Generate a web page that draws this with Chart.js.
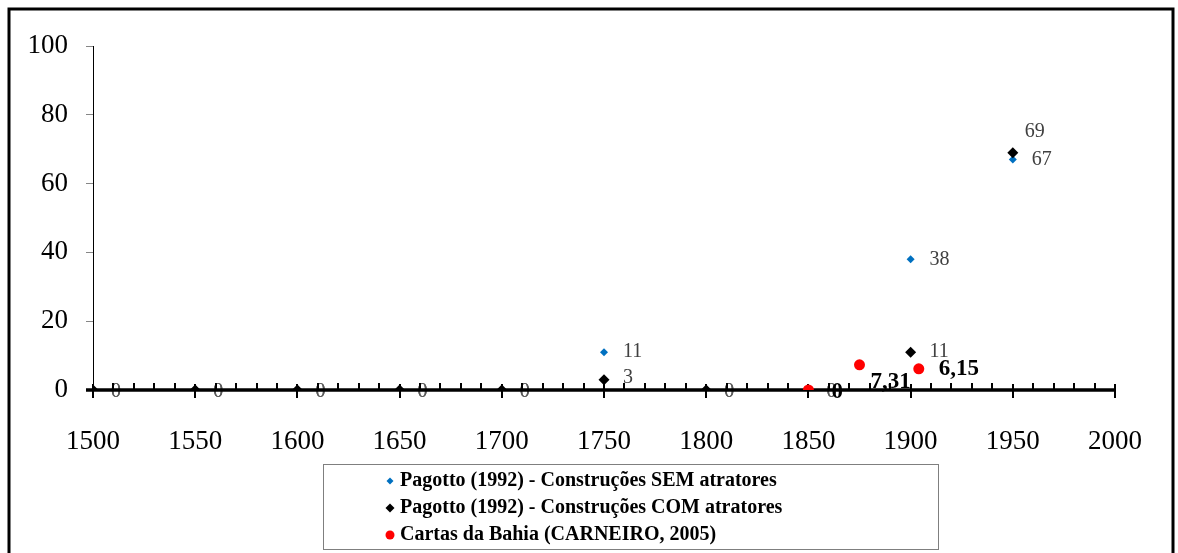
<!DOCTYPE html>
<html><head><meta charset="utf-8">
<script src="https://cdn.jsdelivr.net/npm/chart.js@4.4.0/dist/chart.umd.min.js"></script>
<style>html,body{margin:0;padding:0;background:#fff;overflow:hidden}</style>
</head><body>
<canvas id="c" width="1178" height="553"></canvas>
<script>
// ---- data ----
const years = [1500, 1550, 1600, 1650, 1700, 1750, 1800, 1850, 1900, 1950];
const semAtratores = [0, 0, 0, 0, 0, 11, 0, 0, 38, 67];
const comAtratores = [0, 0, 0, 0, 0, 3, 0, 0, 11, 69];
const cartasYears = [1850, 1875, 1904];
const cartasValues = [0, 7.31, 6.15];
const cartasLabels = ['0', '7,31', '6,15'];
const seriesNames = [
  'Pagotto (1992) - Construções SEM atratores',
  'Pagotto (1992) - Construções COM atratores',
  'Cartas da Bahia (CARNEIRO, 2005)'
];
const xTicks = [1500, 1550, 1600, 1650, 1700, 1750, 1800, 1850, 1900, 1950, 2000];
const yTicks = [0, 20, 40, 60, 80, 100];

// ---- styles ----
const serif = "'Liberation Serif','Times New Roman',serif";
const colors = ['#0070C0', '#000000', '#FF0000'];
// label offsets (px) per dataset/point
const semOffsets = { default: [19, 0], zero: [18, 2] };
const comOffsets = { default: [19, 0], zero: [18, 2], 5: [19, -2], 9: [12, -21] };
const cartasOffsets = [[23, 2], [11, 17], [20, 0]];

const toPts = (xs, ys) => xs.map((x, i) => ({ x: x, y: ys[i] }));

const customPlugin = {
  id: 'custom',
  beforeDraw(chart) {
    const ctx = chart.ctx;
    ctx.save();
    ctx.fillStyle = '#fff';
    ctx.fillRect(0, 0, chart.width, chart.height);
    ctx.restore();
  },
  beforeDatasetsDraw(chart) {
    const ctx = chart.ctx, xs = chart.scales.x, ys = chart.scales.y;
    const y0 = ys.getPixelForValue(0);
    ctx.save();
    // zero labels of Pagotto series (under axis line)
    ctx.font = '20px ' + serif;
    ctx.fillStyle = '#5a5a5a';
    ctx.textBaseline = 'middle';
    ctx.textAlign = 'left';
    [[0, semOffsets], [1, comOffsets]].forEach(([di, off]) => {
      const meta = chart.getDatasetMeta(di);
      chart.data.datasets[di].data.forEach((d, i) => {
        if (d.y === 0) {
          const p = meta.data[i];
          ctx.fillText('0', p.x + off.zero[0], p.y + off.zero[1]);
        }
      });
    });
    // x axis line
    ctx.strokeStyle = '#000';
    ctx.lineWidth = 3.5;
    ctx.beginPath();
    ctx.moveTo(xs.left - 7, y0);
    ctx.lineTo(xs.right, y0);
    ctx.stroke();
    ctx.lineWidth = 2;
    for (let v = xs.min; v <= xs.max; v += 10) {
      const x = Math.round(xs.getPixelForValue(v));
      ctx.beginPath();
      if (v % 50 === 0) { ctx.moveTo(x, y0 - 6); ctx.lineTo(x, y0 + 8); }
      else { ctx.moveTo(x, y0 - 7); ctx.lineTo(x, y0); }
      ctx.stroke();
    }
    ctx.restore();
  },
  afterDatasetsDraw(chart) {
    const ctx = chart.ctx;
    ctx.save();
    ctx.textBaseline = 'middle';
    ctx.textAlign = 'left';
    ctx.font = '20px ' + serif;
    ctx.fillStyle = '#404040';
    [[0, semOffsets], [1, comOffsets]].forEach(([di, off]) => {
      const meta = chart.getDatasetMeta(di);
      chart.data.datasets[di].data.forEach((d, i) => {
        if (d.y !== 0) {
          const p = meta.data[i];
          const o = off[i] || off.default;
          ctx.fillText(String(d.y), p.x + o[0], p.y + o[1]);
        }
      });
    });
    ctx.font = 'bold 23px ' + serif;
    ctx.fillStyle = '#000';
    const meta = chart.getDatasetMeta(2);
    cartasLabels.forEach((t, i) => {
      const p = meta.data[i];
      ctx.fillText(t, p.x + cartasOffsets[i][0], p.y + cartasOffsets[i][1]);
    });
    ctx.restore();
  },
  afterDraw(chart) {
    const ctx = chart.ctx;
    ctx.save();
    // outer frame
    ctx.strokeStyle = '#000';
    ctx.lineWidth = 3;
    ctx.strokeRect(9, 9, 1164, 700);
    // legend box
    ctx.strokeStyle = '#7f7f7f';
    ctx.lineWidth = 1;
    ctx.strokeRect(323.5, 464.5, 615, 85);
    ctx.font = 'bold 20px ' + serif;
    ctx.textBaseline = 'middle';
    ctx.textAlign = 'left';
    const rows = [481, 508, 535];
    seriesNames.forEach((name, i) => {
      const y = rows[i];
      ctx.fillStyle = colors[i];
      ctx.beginPath();
      if (i === 2) {
        ctx.arc(390, y, 4.5, 0, Math.PI * 2);
      } else {
        const r = i === 0 ? 3.5 : 4.5;
        ctx.moveTo(390, y - r); ctx.lineTo(390 + r, y); ctx.lineTo(390, y + r); ctx.lineTo(390 - r, y);
        ctx.closePath();
      }
      ctx.fill();
      ctx.fillStyle = '#000';
      ctx.fillText(name, 400, y);
    });
    ctx.restore();
  }
};

new Chart(document.getElementById('c'), {
  type: 'scatter',
  data: {
    datasets: [
      { label: seriesNames[0], data: toPts(years, semAtratores), pointStyle: 'rectRot', pointRadius: 4,
        backgroundColor: colors[0], borderColor: colors[0], borderWidth: 0, order: 2 },
      { label: seriesNames[1], data: toPts(years, comAtratores), pointStyle: 'rectRot', pointRadius: 5.5,
        backgroundColor: colors[1], borderColor: colors[1], borderWidth: 0, order: 1 },
      { label: seriesNames[2], data: toPts(cartasYears, cartasValues), pointStyle: 'circle', pointRadius: 5.5,
        backgroundColor: colors[2], borderColor: colors[2], borderWidth: 0, order: 0 }
    ]
  },
  options: {
    responsive: false,
    animation: false,
    devicePixelRatio: 1,
    layout: { padding: { left: 0, top: 46, right: 61, bottom: 103 } },
    plugins: { legend: { display: false }, tooltip: { enabled: false } },
    scales: {
      x: {
        type: 'linear', min: 1500, max: 2000,
        afterBuildTicks: (s) => { s.ticks = xTicks.map(v => ({ value: v })); },
        afterFit: (s) => { s.height = 60; },
        grid: { display: false, drawTicks: false },
        border: { display: false },
        ticks: { color: '#000', font: { family: serif, size: 27 }, padding: 36, maxRotation: 0,
          callback: (v) => String(v) }
      },
      y: {
        min: 0, max: 100,
        afterBuildTicks: (s) => { s.ticks = yTicks.map(v => ({ value: v })); },
        afterFit: (s) => { s.width = 93; },
        grid: { drawOnChartArea: false, drawTicks: true, tickLength: 7, color: '#868686' },
        border: { display: true, color: '#000', width: 1 },
        ticks: { color: '#000', font: { family: serif, size: 27 }, padding: 18, callback: (v) => String(v) }
      }
    }
  },
  plugins: [customPlugin]
});
</script>
</body></html>
